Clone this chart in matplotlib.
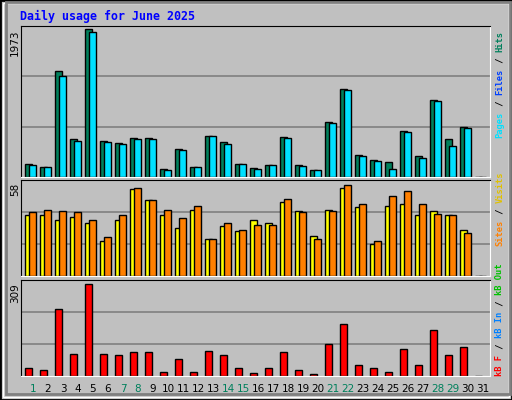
import matplotlib
matplotlib.use("Agg")
import matplotlib.pyplot as plt
from matplotlib.patches import Rectangle

days = list(range(1, 32))
weekend = [1, 7, 8, 14, 15, 21, 22, 28, 29]
hits = [178,138,1418,511,1973,484,458,524,524,111,378,138,551,471,178,124,164,538,164,98,738,1178,298,231,204,618,284,1031,511,671,0]
pages = [164,138,1351,484,1938,471,444,511,511,98,364,138,551,444,178,111,164,524,151,98,724,1164,284,218,111,604,258,1018,418,658,0]
visits = [37.4,37.4,34.3,36.1,32.5,21.4,34.3,53.9,47.2,37.4,29.4,41,22.7,30.6,27.6,34.3,32.5,45.9,40.4,24.5,41,54.5,42.3,19.6,42.9,44.7,37.4,40.4,37.4,28.2,0]
sites = [39.2,41,40.4,39.2,34.3,23.9,37.4,54.5,47.2,41,35.5,42.9,22.7,32.5,28.2,31.2,31.2,47.8,39.2,22.7,40.4,56.4,44.7,21.4,49.6,52.7,44.7,38,37.4,26.3,0]
kbf = [28,21,224,75,309,75,72,82,79,15,58,15,85,72,28,11,28,79,21,8,106,173,38,28,15,92,38,156,72,96,0]

W, H = 512, 400
fig = plt.figure(figsize=(5.12, 4.0), dpi=100)
fig.patch.set_facecolor("#C0C0C0")
def fr(x0, y0, x1, y1):
    return [x0 / W, 1 - y1 / H, (x1 - x0) / W, (y1 - y0) / H]

fig.patches.append(Rectangle((0, 0), 1, 1, transform=fig.transFigure, fill=False, ec="black", lw=2))
fig.patches.append(Rectangle((3/W, 3/H), 1 - 6/W, 1 - 6/H, transform=fig.transFigure, fill=False, ec="white", lw=1))
fig.patches.append(Rectangle((6/W, 6/H), 1 - 8/W, 1 - 8/H, transform=fig.transFigure, fill=False, ec="#808080", lw=2))

mono = "DejaVu Sans Mono"
fig.text(20/W, 1 - 16/H, "Daily usage for June 2025", color="#0000FF", fontsize=8.4,
         fontweight="bold", family=mono, va="center")

XMAX = 469 / 15
def mkax(y0, y1, vmax, vpix):
    ax = fig.add_axes(fr(21, y0, 490, y1))
    ax.set_facecolor("#C0C0C0")
    ax.set_xlim(0, XMAX)
    hpx = y1 - y0
    top = vmax * hpx / vpix
    ax.set_ylim(0, top)
    for g in (top / 3, 2 * top / 3):
        ax.axhline(g, color="#808080", lw=1.2, zorder=0)
    ax.set_xticks([]); ax.set_yticks([])
    for s in ("left", "top"):
        ax.spines[s].set_color("black")
    for s in ("right", "bottom"):
        ax.spines[s].set_color("white")
    fig.text(15/W, 1 - (y0 + 3)/H, f"{vmax:g}", rotation=90, fontsize=7.5,
             family="DejaVu Sans", ha="center", va="top")
    return ax

ax1 = mkax(26, 177, 1973, 148)
ax2 = mkax(180, 276, 58, 94)
ax3 = mkax(280, 376, 309, 92)

w = 7 / 15
o1 = 4 / 15
o2 = 8 / 15
xs = [d - 1 for d in days]
ax1.bar([x + o1 for x in xs], hits, width=w, align="edge", color="#00805C", ec="black", lw=1)
ax1.bar([x + o2 for x in xs], pages, width=w, align="edge", color="#00E0FF", ec="black", lw=1)
ax2.bar([x + o1 for x in xs], visits, width=w, align="edge", color="#FFFF00", ec="black", lw=1)
ax2.bar([x + o2 for x in xs], sites, width=w, align="edge", color="#FF8000", ec="black", lw=1)
ax3.bar([x + o1 for x in xs], kbf, width=w, align="edge", color="#FF0000", ec="black", lw=1)

for d in days:
    px = 21 + 15 * (d - 1) + 12
    fig.text(px / W, 1 - 389/H, str(d), fontsize=7.5, ha="center", va="center",
             color="#00805C" if d in weekend else "black")

def legend(ybot, parts):
    y = ybot
    cw = 5.4
    for txt, col in parts:
        fig.text(500/W, 1 - y/H, txt, rotation=90, fontsize=6.3, family=mono,
                 fontweight="bold", color=col, ha="center", va="bottom")
        y -= cw * len(txt)

legend(138, [("Pages", "#00E0FF"), (" / ", "#000000"), ("Files", "#0040FF"), (" / ", "#000000"), ("Hits", "#00805C")])
legend(246, [("Sites", "#FF8000"), (" / ", "#000000"), ("Visits", "#E0C000")])
legend(376, [("kB F", "#FF0000"), (" / ", "#000000"), ("kB In", "#0080FF"), (" / ", "#000000"), ("kB Out", "#00C000")])

fig.savefig("out.png", dpi=100, facecolor=fig.get_facecolor())
